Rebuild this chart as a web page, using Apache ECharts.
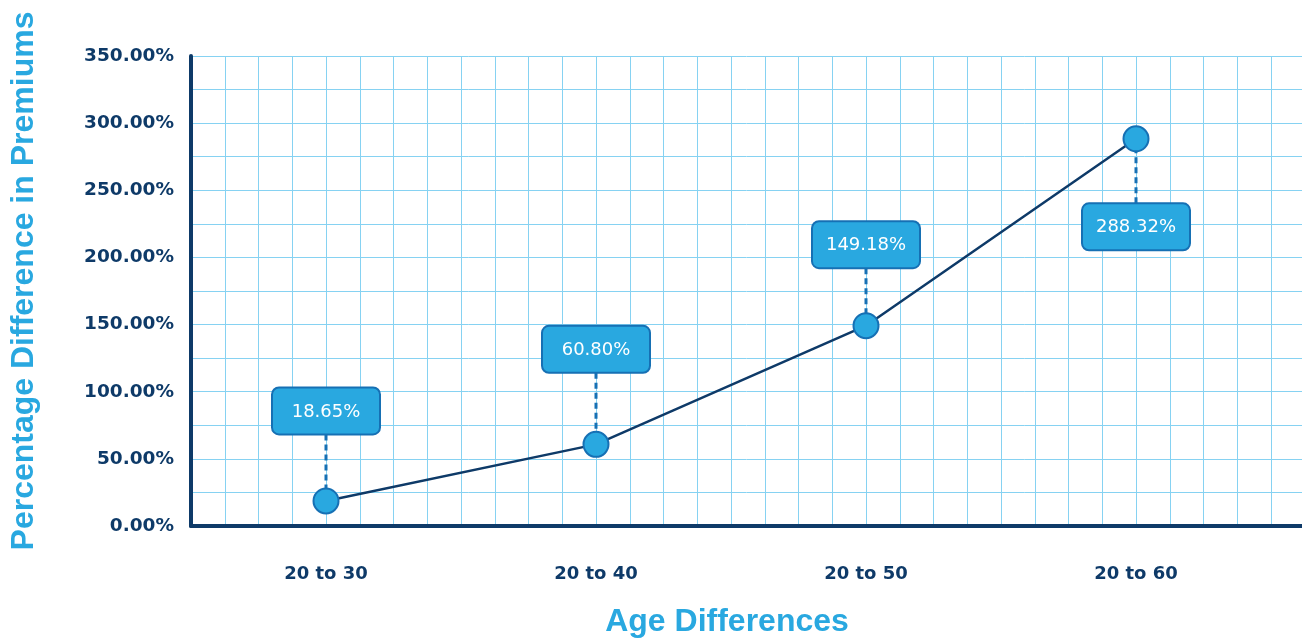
<!DOCTYPE html>
<html>
<head>
<meta charset="utf-8">
<script src="https://cdn.jsdelivr.net/npm/echarts@6/dist/echarts.min.js"></script>
<style>
html,body{margin:0;padding:0;background:#fff;}
#chart{width:1302px;height:639px;}
</style>
</head>
<body>
<div id="chart"></div>
<script>
// ---- data ----
const categories = ['20 to 30', '20 to 40', '20 to 50', '20 to 60'];
const values = [18.65, 60.80, 149.18, 288.32];
const yTickValues = [0, 50, 100, 150, 200, 250, 300, 350];
const xTitle = 'Age Differences';
const yTitle = 'Percentage Difference in Premiums';

// ---- style ----
const NAVY = '#0e3a68';
const SKY = '#29a8e0';
const SKY_DARK = '#1670b4';
const GRID = '#86d2f2';
const GRID_LEFT = 191, GRID_TOP = 56, GRID_BOTTOM = 113;
const CELL = 33.75;            // background cell width in px
const PLOT_W = CELL * 32;      // category plot width
const BG_W = 1302 - GRID_LEFT;
const LABEL_OFFSET = [-90, -95, -81, 88];

const chart = echarts.init(document.getElementById('chart'), null, {renderer: 'canvas'});

const option = {
  animation: false,
  grid: [
    {left: GRID_LEFT, top: GRID_TOP, bottom: GRID_BOTTOM, width: PLOT_W, containLabel: false},
    {left: GRID_LEFT, top: GRID_TOP, bottom: GRID_BOTTOM, right: 0, containLabel: false}
  ],
  xAxis: [
    {
      type: 'category', gridIndex: 0, data: categories, boundaryGap: true,
      axisLine: {show: false}, axisTick: {show: false}, splitLine: {show: false},
      axisLabel: {
        color: NAVY, fontFamily: 'DejaVu Sans', fontWeight: 'bold', fontSize: 18, margin: 39
      }
    },
    {
      type: 'value', gridIndex: 1, min: 0, max: BG_W / CELL, interval: 1,
      axisLine: {show: true, onZero: false, lineStyle: {color: NAVY, width: 4}},
      axisTick: {show: false}, axisLabel: {show: false},
      splitLine: {show: true, lineStyle: {color: GRID, width: 1}}
    }
  ],
  yAxis: [
    {
      type: 'value', gridIndex: 0, min: 0, max: 350, interval: 50, show: false
    },
    {
      type: 'value', gridIndex: 1, min: 0, max: 350, interval: 25,
      axisLine: {show: true, lineStyle: {color: NAVY, width: 4}},
      axisTick: {show: false},
      splitLine: {show: true, lineStyle: {color: GRID, width: 1}},
      axisLabel: {
        color: NAVY, fontFamily: 'DejaVu Sans', fontWeight: 'bold', fontSize: 18.5, margin: 17,
        padding: [6, 0, 0, 0],
        formatter: function (v) {
          return yTickValues.indexOf(v) >= 0 ? v.toFixed(2) + '%' : '';
        }
      }
    }
  ],
  series: [
    {
      type: 'line', xAxisIndex: 0, yAxisIndex: 0, data: values, z: 3,
      symbol: 'circle', symbolSize: 25,
      lineStyle: {color: NAVY, width: 2.5},
      itemStyle: {color: SKY, borderColor: SKY_DARK, borderWidth: 2}
    },
    {
      type: 'custom', xAxisIndex: 0, yAxisIndex: 0, z: 2,
      data: values.map((v, i) => [i, v]),
      renderItem: function (params, api) {
        const i = params.dataIndex;
        const p = api.coord([api.value(0), api.value(1)]);
        const off = LABEL_OFFSET[i];
        const cx = p[0], cy = p[1] + off;
        const w = 108, h = 47;
        const lineStart = off < 0 ? cy + h / 2 : cy - h / 2;
        return {
          type: 'group',
          children: [
            {
              type: 'line', z2: 1,
              shape: {x1: cx, y1: lineStart, x2: cx, y2: p[1]},
              style: {stroke: SKY_DARK, lineWidth: 3, lineDash: [6, 4]}
            },
            {
              type: 'rect', z2: 2,
              shape: {x: cx - w / 2, y: cy - h / 2, width: w, height: h, r: 7},
              style: {fill: SKY, stroke: SKY_DARK, lineWidth: 2}
            },
            {
              type: 'text', z2: 3,
              style: {
                x: cx, y: cy + 1, text: values[i].toFixed(2) + '%',
                fill: '#ffffff', font: '18px "DejaVu Sans"',
                align: 'center', verticalAlign: 'middle'
              }
            }
          ]
        };
      }
    }
  ],
  graphic: [
    {
      type: 'text', x: 727, y: 622,
      style: {
        text: xTitle, fill: SKY, font: 'bold 32px "Liberation Sans"',
        align: 'center', verticalAlign: 'middle'
      }
    },
    {
      type: 'text', x: 24, y: 281, rotation: Math.PI / 2,
      style: {
        text: yTitle, fill: SKY, font: 'bold 32px "Liberation Sans"',
        align: 'center', verticalAlign: 'middle'
      }
    }
  ]
};
chart.setOption(option);
</script>
</body>
</html>
